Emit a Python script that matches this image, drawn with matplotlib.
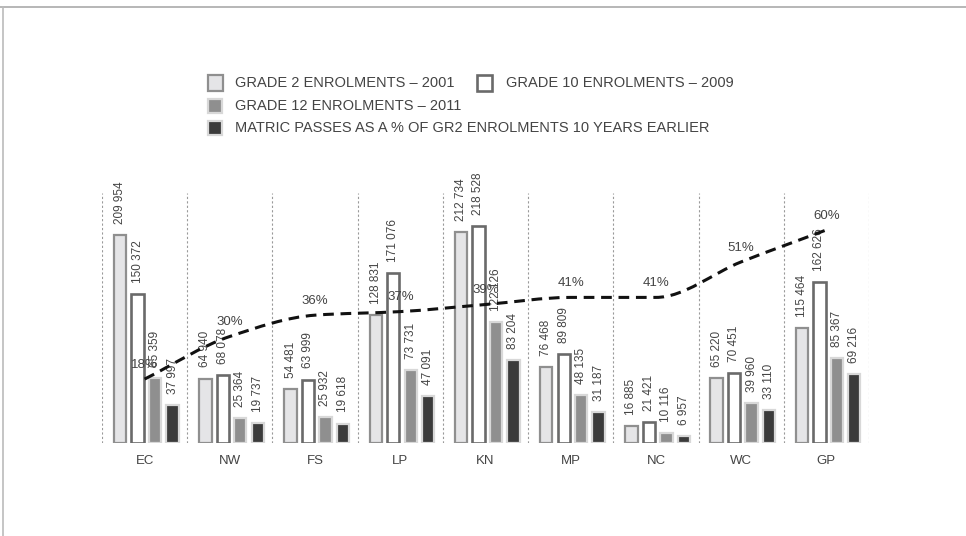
import numpy as np
import matplotlib.pyplot as plt
from matplotlib.patches import Rectangle, PathPatch
from matplotlib.path import Path
from matplotlib.lines import Line2D

plt.rcParams['font.family'] = ['Liberation Sans', 'DejaVu Sans']

provinces = ["EC", "NW", "FS", "LP", "KN", "MP", "NC", "WC", "GP"]
grade2_2001 = [209954, 64940, 54481, 128831, 212734, 76468, 16885, 65220, 115464]
grade10_2009 = [150372, 68078, 63999, 171076, 218528, 89809, 21421, 70451, 162626]
grade12_2011 = [65359, 25364, 25932, 73731, 122126, 48135, 10116, 39960, 85367]
matric_passes = [37997, 19737, 19618, 47091, 83204, 31187, 6957, 33110, 69216]
pass_pct = [18, 30, 36, 37, 39, 41, 41, 51, 60]

series_names = ["GRADE 2 ENROLMENTS \u2013 2001", "GRADE 10 ENROLMENTS \u2013 2009",
                "GRADE 12 ENROLMENTS \u2013 2011",
                "MATRIC PASSES AS A % OF GR2 ENROLMENTS 10 YEARS EARLIER"]

W, H = 966, 536
fig = plt.figure(figsize=(W / 100, H / 100), dpi=100)


def fx(px):
    return px / W


def fy(py):
    return 1 - py / H


ax = fig.add_axes([fx(102), fy(443), fx(869) - fx(102), fy(193) - fy(443)])
ax2 = ax.twinx()

text_col = "#444444"
styles = [
    dict(facecolor="#e5e5e7", edgecolor="#8f8f8f", linewidth=1.6),
    dict(facecolor="#ffffff", edgecolor="#6a6a6a", linewidth=1.9),
    dict(facecolor="#8f8f8f", edgecolor="#d8d8d8", linewidth=1.6),
    dict(facecolor="#3b3b3b", edgecolor="#d8d8d8", linewidth=1.6),
]

x = np.arange(len(provinces))
step = 0.205
bw = 0.145
series = [grade2_2001, grade10_2009, grade12_2011, matric_passes]
for i, (vals, st) in enumerate(zip(series, styles)):
    xs = x + (i - 1.5) * step + 0.02
    ax.bar(xs, vals, width=bw, zorder=2, **st)
    for xv, v in zip(xs, vals):
        lab = "{:,}".format(v).replace(",", " ")
        ax.annotate(lab, (xv, v), xytext=(0, 8), textcoords="offset points",
                    rotation=90, ha="center", va="bottom", fontsize=8.5,
                    color=text_col)

# dotted separators between provinces
for b in np.arange(-0.5, len(provinces), 1.0):
    ax.axvline(b, color="#9a9a9a", linestyle=(0, (2, 2)), linewidth=0.8, zorder=1)

ax.set_xlim(-0.5, len(provinces) - 0.5)
ax.set_ylim(0, 252000)
ax.set_xticks(x)
ax.set_xticklabels(provinces, fontsize=9.5, color=text_col)
ax.tick_params(axis="x", length=0, pad=9)
ax.set_yticks([])
for s in ax.spines.values():
    s.set_visible(False)

# smoothed dashed pass-rate line on the secondary axis
ax2.set_ylim(0, 70.4)
ax2.set_yticks([])
for s in ax2.spines.values():
    s.set_visible(False)

# monotone cubic tangents so flat stretches stay flat
px_ = x.astype(float)
py_ = np.array(pass_pct, dtype=float)
d = np.diff(py_) / np.diff(px_)
m = np.zeros_like(py_)
m[0], m[-1] = d[0], d[-1]
for i in range(1, len(py_) - 1):
    if d[i - 1] * d[i] > 0:
        m[i] = 2 * d[i - 1] * d[i] / (d[i - 1] + d[i])

verts = [(px_[0], py_[0])]
codes = [Path.MOVETO]
for i in range(len(px_) - 1):
    h = px_[i + 1] - px_[i]
    verts += [(px_[i] + h / 3, py_[i] + m[i] * h / 3),
              (px_[i + 1] - h / 3, py_[i + 1] - m[i + 1] * h / 3),
              (px_[i + 1], py_[i + 1])]
    codes += [Path.CURVE4] * 3
ax2.add_patch(PathPatch(Path(verts, codes), facecolor="none", edgecolor="#111111",
                        linewidth=2.2, linestyle=(0, (3.5, 2.2)), zorder=5))
for xv, p in zip(x, pass_pct):
    ax2.annotate(f"{p}%", (xv, p), xytext=(0, 6), textcoords="offset points",
                 ha="center", va="bottom", fontsize=9.5, color=text_col, zorder=6)

# legend drawn in figure pixels
legend_items = [(208, 83, 15, 235), (477, 83, 15, 506), (208, 106, 14, 235), (208, 128, 14, 235)]
for (lx, ly, sz, tx), st, name in zip(legend_items, styles, series_names):
    fig.add_artist(Rectangle((fx(lx), fy(ly + sz / 2)), fx(sz), fy(0) - fy(sz),
                             transform=fig.transFigure, **st))
    fig.text(fx(tx), fy(ly), name, ha="left", va="center", fontsize=10.5, color=text_col)

# thin frame on top and left
fig.add_artist(Line2D([0, 1], [fy(7), fy(7)], color="#aaaaaa", linewidth=1.2))
fig.add_artist(Line2D([fx(3), fx(3)], [0, fy(7)], color="#bbbbbb", linewidth=1.2))

fig.savefig("out.png", dpi=100)
